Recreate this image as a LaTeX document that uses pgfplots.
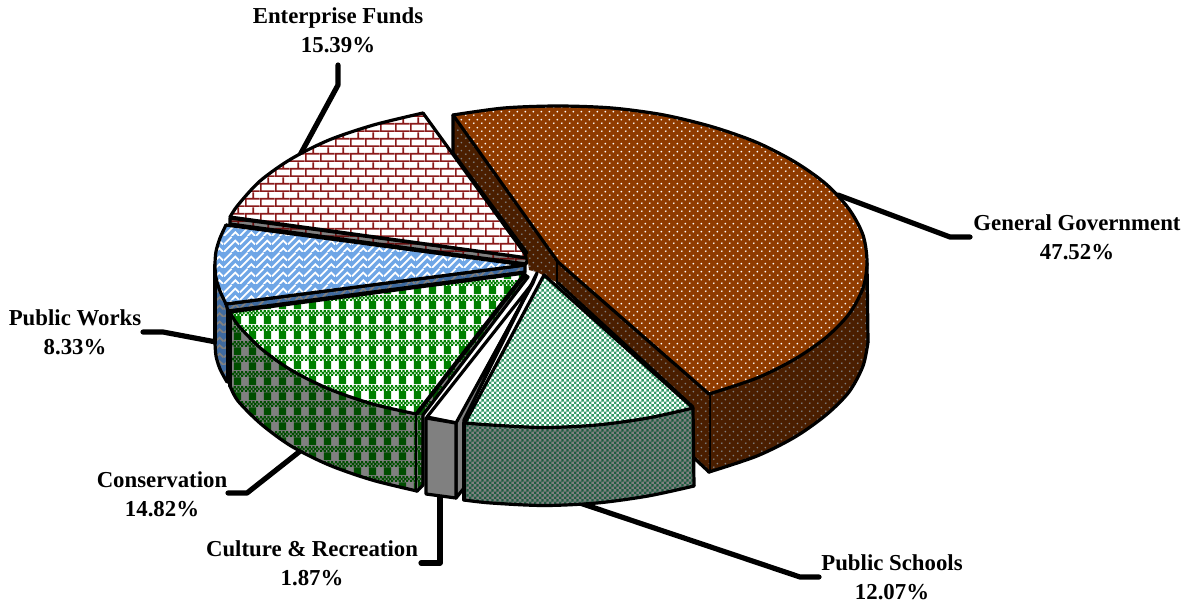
\documentclass[border=0pt]{standalone}
\usepackage{fontspec}
\setmainfont{Liberation Serif}
\usepackage{pgfplots}
\pgfplotsset{compat=1.18}
\usetikzlibrary{patterns}
\pgfdeclarepatternformonly{xdots}{\pgfpointorigin}{\pgfqpoint{6pt}{6pt}}{\pgfqpoint{6pt}{6pt}}{%
  \pgfpathcircle{\pgfqpoint{1.5pt}{1.5pt}}{0.8pt}\pgfpathcircle{\pgfqpoint{4.5pt}{4.5pt}}{0.8pt}\pgfusepath{fill}}
\pgfdeclarepatternformonly{xcheck}{\pgfpointorigin}{\pgfqpoint{4pt}{4pt}}{\pgfqpoint{4pt}{4pt}}{%
  \pgfpathrectangle{\pgfqpoint{0pt}{0pt}}{\pgfqpoint{2pt}{2pt}}\pgfpathrectangle{\pgfqpoint{2pt}{2pt}}{\pgfqpoint{2pt}{2pt}}\pgfusepath{fill}}
\pgfdeclarepatternformonly{xbrick}{\pgfpointorigin}{\pgfqpoint{11.5pt}{11.5pt}}{\pgfqpoint{11.5pt}{11.5pt}}{%
  \pgfpathrectangle{\pgfqpoint{0pt}{0pt}}{\pgfqpoint{11.5pt}{1.3pt}}%
  \pgfpathrectangle{\pgfqpoint{0pt}{5.75pt}}{\pgfqpoint{11.5pt}{1.3pt}}%
  \pgfpathrectangle{\pgfqpoint{0pt}{0pt}}{\pgfqpoint{1.3pt}{5.75pt}}%
  \pgfpathrectangle{\pgfqpoint{5.75pt}{5.75pt}}{\pgfqpoint{1.3pt}{5.75pt}}\pgfusepath{fill}}
\pgfdeclarepatternformonly{xplaid}{\pgfpointorigin}{\pgfqpoint{11.5pt}{11.5pt}}{\pgfqpoint{11.5pt}{11.5pt}}{%
  \pgfpathrectangle{\pgfqpoint{3pt}{5.3pt}}{\pgfqpoint{5.75pt}{6.2pt}}%
  \pgfpathrectangle{\pgfqpoint{0pt}{0pt}}{\pgfqpoint{1.7pt}{1.7pt}}%
  \pgfpathrectangle{\pgfqpoint{2.875pt}{0pt}}{\pgfqpoint{1.7pt}{1.7pt}}%
  \pgfpathrectangle{\pgfqpoint{5.75pt}{0pt}}{\pgfqpoint{1.7pt}{1.7pt}}%
  \pgfpathrectangle{\pgfqpoint{8.625pt}{0pt}}{\pgfqpoint{1.7pt}{1.7pt}}%
  \pgfpathrectangle{\pgfqpoint{0pt}{2.88pt}}{\pgfqpoint{1.7pt}{1.7pt}}%
  \pgfpathrectangle{\pgfqpoint{2.875pt}{2.88pt}}{\pgfqpoint{1.7pt}{1.7pt}}%
  \pgfpathrectangle{\pgfqpoint{5.75pt}{2.88pt}}{\pgfqpoint{1.7pt}{1.7pt}}%
  \pgfpathrectangle{\pgfqpoint{8.625pt}{2.88pt}}{\pgfqpoint{1.7pt}{1.7pt}}%
  \pgfpathrectangle{\pgfqpoint{1.44pt}{1.44pt}}{\pgfqpoint{1.7pt}{1.7pt}}%
  \pgfpathrectangle{\pgfqpoint{4.31pt}{1.44pt}}{\pgfqpoint{1.7pt}{1.7pt}}%
  \pgfpathrectangle{\pgfqpoint{7.19pt}{1.44pt}}{\pgfqpoint{1.7pt}{1.7pt}}%
  \pgfpathrectangle{\pgfqpoint{10.06pt}{1.44pt}}{\pgfqpoint{1.44pt}{1.7pt}}%
  \pgfusepath{fill}}
\pgfdeclarepatternformonly{xweave}{\pgfpointorigin}{\pgfqpoint{12pt}{12pt}}{\pgfqpoint{12pt}{12pt}}{%
  \pgfsetlinewidth{1.4pt}%
  \pgfpathmoveto{\pgfqpoint{0pt}{0pt}}\pgfpathlineto{\pgfqpoint{9pt}{9pt}}\pgfpathlineto{\pgfqpoint{12pt}{6pt}}%
  \pgfpathmoveto{\pgfqpoint{0pt}{6pt}}\pgfpathlineto{\pgfqpoint{6pt}{12pt}}%
  \pgfpathmoveto{\pgfqpoint{6pt}{0pt}}\pgfpathlineto{\pgfqpoint{9pt}{3pt}}\pgfpathlineto{\pgfqpoint{12pt}{0pt}}%
  \pgfusepath{stroke}}
\definecolor{gg}{HTML}{8F3B00}
\definecolor{ggw}{HTML}{4A1E00}
\definecolor{gray5}{HTML}{808080}
\definecolor{sch}{HTML}{339966}
\definecolor{schw}{HTML}{1D5C40}
\definecolor{brk}{HTML}{8B1A1A}
\definecolor{brkw}{HTML}{6B1010}
\definecolor{blu}{HTML}{6FA6E6}
\definecolor{bluw}{HTML}{3F6A9F}
\definecolor{grn}{HTML}{008000}
\definecolor{grnw}{HTML}{004D00}
\tikzset{
  face/.style n args={3}{draw=none,fill=#1,postaction={pattern=#2,pattern color=#3}},
  edge/.style={draw=black,fill=none},
}
\newcommand{\lab}[4]{\node[align=center,font=\fontsize{17.1pt}{21.6pt}\selectfont\bfseries,inner sep=0pt] at (axis cs:#1,#2) {#3\\#4};}
\begin{document}
\begin{tikzpicture}
\useasboundingbox (0,0) rectangle (891pt,453pt);
\begin{axis}[at={(0,0)},anchor=south west,x=0.75pt,y=0.75pt,y dir=reverse,
  xmin=0,xmax=1188,ymin=0,ymax=604,hide axis,clip=false,
  every axis plot/.append style={no markers,line width=2.4pt,line join=round,line cap=round}]
% leader lines
\addplot[black,line width=3.9pt,sharp plot] coordinates {(838,195)(950,237)(970,237)};
\addplot[black,line width=3.9pt,sharp plot] coordinates {(300,155)(338,85)(338,65)};
\addplot[black,line width=3.9pt,sharp plot] coordinates {(216,342)(163,332)(143,332)};
\addplot[black,line width=3.9pt,sharp plot] coordinates {(299,452)(247,493)(228,493)};
\addplot[black,line width=3.9pt,sharp plot] coordinates {(440,495)(440,563)(421,563)};
\addplot[black,line width=3.9pt,sharp plot] coordinates {(580,503)(800,577)(819,577)};
% Enterprise Funds
\addplot[face={gray5}{xbrick}{brkw}] coordinates {(230,218)(528,258)(526,264)(230,224)(230,218)};
\addplot[edge] coordinates {(230,218)(528,258)(526,264)(230,224)(230,218)};
\addplot[face={white}{xbrick}{brk}] coordinates {(423,113)(373.5,125)(329,140)(291,159)(260,181)(238,205)(230,217)(528,258)(423,113)};
\addplot[edge,smooth] coordinates {(423,113)(373.5,125)(329,140)(291,159)(260,181)(238,205)(230,217)};
\addplot[edge] coordinates {(230,217)(528,258)(423,113)};
% Public Works
\addplot[face={bluw}{xweave}{gray5}] coordinates {(215,265)(215,343)(216,356)(220,369)(227,382)(228,303)(220,291)(215,265)};
\addplot[edge,smooth] coordinates {(215,343)(216,356)(220,369)(227,382)};
\addplot[edge] coordinates {(215,265)(215,343)};
\addplot[edge] coordinates {(228,382)(228,303)};
\addplot[face={bluw}{xweave}{gray5}] coordinates {(226,304)(525,265)(525,272)(228,311)(226,304)};
\addplot[edge] coordinates {(226,304)(525,265)(525,272)(228,311)(226,304)};
\addplot[face={blu}{xweave}{white}] coordinates {(226,225)(220,238)(216,251.5)(215,265)(216,278)(220,291)(226,304)(525,265)(226,225)};
\addplot[edge,smooth] coordinates {(226,225)(220,238)(216,251.5)(215,265)(216,278)(220,291)(226,304)};
\addplot[edge] coordinates {(226,304)(525,265)(226,225)};
% General Government
\addplot[face={ggw}{xdots}{gray5}] coordinates {(867,263)(868,342)(863,366)(849,392)(826,415)(795,437)(757,456)(709,472)(709,394)(757,378)(795,359)(826,337.5)(849,314)(863,288)(867,263)};
\addplot[edge,smooth] coordinates {(868,342)(863,366)(849,392)(826,415)(795,437)(757,456)(709,472)};
\addplot[edge] coordinates {(867,263)(868,342)};
\addplot[edge] coordinates {(709,394)(709,472)};
\addplot[face={ggw}{xdots}{gray5}] coordinates {(453,115)(558,262)(558,283)(537,272)(529,270)(527,253)(453,153)(453,115)};
\addplot[edge] coordinates {(453,115)(453,153)(527,253)};
\addplot[edge] coordinates {(558,262)(558,283)};
\addplot[face={ggw}{xdots}{gray5}] coordinates {(558,262)(709,394)(709,472)(693,457)(693,407)(558,283)(558,262)};
\addplot[edge] coordinates {(558,283)(693,407)};
\addplot[edge] coordinates {(693,457)(709,472)};
\addplot[face={gg}{xdots}{white}] coordinates {(453,115)(504,108)(558,106)(612,108)(664,115)(713,127)(757,142.5)(795,162)(826,184)(849,209)(863,235)(867,262)(863,288)(849,314)(826,337.5)(795,359)(757,378)(709,394)(558,262)(453,115)};
\addplot[edge,smooth] coordinates {(453,115)(504,108)(558,106)(612,108)(664,115)(713,127)(757,142.5)(795,162)(826,184)(849,209)(863,235)(867,262)(863,288)(849,314)(826,337.5)(795,359)(757,378)(709,394)};
\addplot[edge] coordinates {(709,394)(558,262)(453,115)};
% Conservation
\addplot[face={gray5}{xplaid}{grnw}] coordinates {(230,312)(230,386)(238,401)(261,424)(291,446)(329,465)(372,480)(417,491)(416,414)(372.5,404)(329,389)(291,370)(261,348.5)(238,325)(230,312)};
\addplot[edge,smooth] coordinates {(230,386)(238,401)(261,424)(291,446)(329,465)(372,480)(417,491)};
\addplot[edge] coordinates {(230,312)(230,386)};
\addplot[edge] coordinates {(417,491)(417,414)};
\addplot[face={gray5}{xplaid}{grnw}] coordinates {(417,414)(525,275)(528,277)(423,415)(423,485)(417,491)(417,414)};
\addplot[edge] coordinates {(417,414)(525,275)(528,277)(423,415)(423,485)(417,491)};
\addplot[face={white}{xplaid}{grn}] coordinates {(230,312)(238,325)(261,348.5)(291,370)(329,389)(372.5,404)(416,414)(525,273)(230,312)};
\addplot[edge,smooth] coordinates {(230,312)(238,325)(261,348.5)(291,370)(329,389)(372.5,404)(416,414)};
\addplot[edge] coordinates {(416,414)(525,273)(230,312)};
% Culture & Recreation
\addplot[draw=black,fill=white] coordinates {(427,417)(532,284)(457,423)(427,417)};
\addplot[draw=black,fill=gray5] coordinates {(456,423)(533,283)(537,273)(464,420)(464,488)(456,498)(456,423)};
\addplot[draw=black,fill=gray5] coordinates {(426,418)(456,423)(456,498)(426,494)(426,418)};
% Public Schools
\addplot[face={gray5}{xcheck}{schw}] coordinates {(464,423)(464,500)(491,503)(544,505.5)(597,503)(648,496)(694,486)(693,408)(648,418)(597,425)(544,427.5)(491,425)(464,423)};
\addplot[edge,smooth] coordinates {(464,500)(491,503)(544,505.5)(597,503)(648,496)(694,486)};
\addplot[edge] coordinates {(464,423)(464,500)};
\addplot[edge] coordinates {(694,486)(693,408)};
\addplot[face={white}{xcheck}{sch}] coordinates {(544,275)(693,408)(648,418)(597,425)(544,427.5)(491,425)(465,423)(544,275)};
\addplot[edge,smooth] coordinates {(693,408)(648,418)(597,425)(544,427.5)(491,425)(465,423)};
\addplot[edge] coordinates {(693,408)(544,275)(465,423)};
% labels
\lab{338}{30}{Enterprise Funds}{15.39\%}
\lab{1077}{237}{General Government}{47.52\%}
\lab{75}{332}{Public Works}{8.33\%}
\lab{162}{494}{Conservation}{14.82\%}
\lab{312}{563}{Culture \& Recreation}{1.87\%}
\lab{892}{577}{Public Schools}{12.07\%}
\end{axis}
\end{tikzpicture}
\end{document}
